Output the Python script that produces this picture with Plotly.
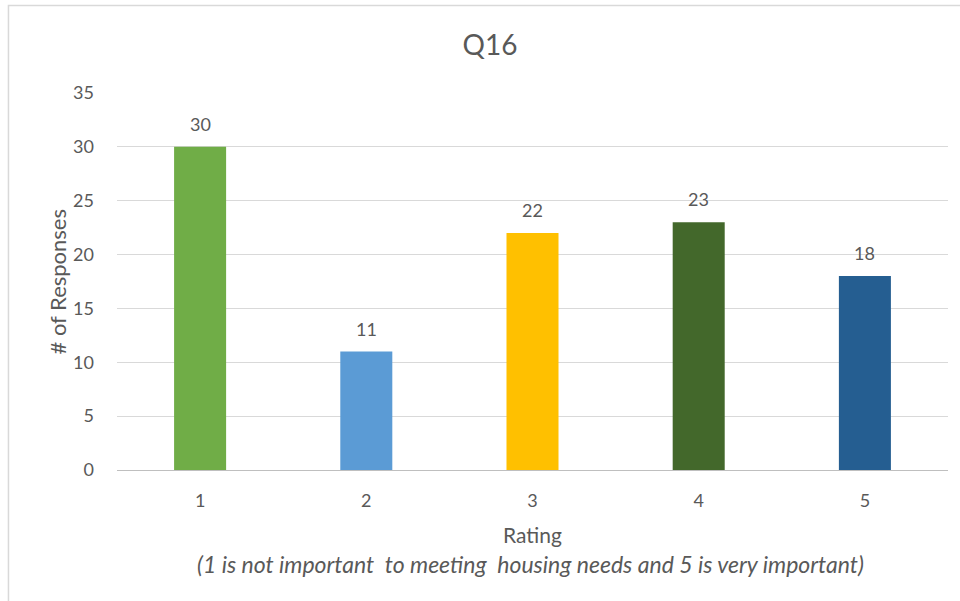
import plotly.graph_objects as go

ratings = ["1", "2", "3", "4", "5"]
responses = [30, 11, 22, 23, 18]
bar_colors = ["#70AD47", "#5B9BD5", "#FFC000", "#43682B", "#255E91"]
y_ticks = [0, 5, 10, 15, 20, 25, 30, 35]

FONT = "Lato, Open Sans, sans-serif"
GREY = "#595959"

fig = go.Figure()
fig.add_trace(go.Bar(
    x=ratings,
    y=responses,
    marker=dict(color=bar_colors, line=dict(width=0)),
    hoverinfo="x+y",
))

# value labels above each bar (category positions by index)
for i, v in enumerate(responses):
    fig.add_annotation(x=i, y=v, text=str(v), showarrow=False,
                       yanchor="bottom", yshift=10,
                       font=dict(family=FONT, size=18, color=GREY))

# axis titles
fig.add_annotation(xref="paper", yref="paper", x=-0.0722, y=0.5,
                   text="# of Responses", textangle=-90, showarrow=False,
                   xanchor="center", yanchor="middle",
                   font=dict(family=FONT, size=22, color=GREY))
fig.add_annotation(xref="paper", yref="paper", x=0.5, y=-0.170, text="Rating",
                   showarrow=False, yanchor="middle",
                   font=dict(family=FONT, size=21, color=GREY))
fig.add_annotation(xref="paper", yref="paper", x=0.497, y=-0.25,
                   text="<i>(1 is not important&nbsp; to meeting&nbsp; housing needs and 5 is very important)</i>",
                   showarrow=False, yanchor="middle",
                   font=dict(family=FONT, size=23, color=GREY))

# chart frame
fig.add_shape(type="rect", xref="paper", yref="paper",
              x0=-0.1306, x1=1.04, y0=-0.40, y1=1.232,
              line=dict(color="#D9D9D9", width=1.5), fillcolor="rgba(0,0,0,0)",
              layer="below")

fig.update_layout(
    width=960, height=601,
    margin=dict(l=117, r=12, t=93, b=131),
    paper_bgcolor="white", plot_bgcolor="white",
    showlegend=False,
    bargap=0.687,
    title=dict(text="Q16", x=490 / 960, xref="container", xanchor="center",
               y=1 - 45 / 601, yref="container", yanchor="middle",
               font=dict(family=FONT, size=28, color=GREY)),
    font=dict(family=FONT, color=GREY),
    xaxis=dict(
        type="category", range=[-0.5, 4.5],
        showgrid=False, showline=True, linecolor="#BFBFBF", linewidth=1,
        ticks="", ticklabelstandoff=14,
        tickfont=dict(family=FONT, size=18, color=GREY),
    ),
    yaxis=dict(
        range=[0, 35], tickvals=y_ticks,
        showgrid=True, gridcolor="#D9D9D9", gridwidth=1,
        zeroline=False, showline=False,
        ticks="", ticklabelstandoff=22,
        tickfont=dict(family=FONT, size=18, color=GREY),
    ),
)

fig.write_html("out.html")
